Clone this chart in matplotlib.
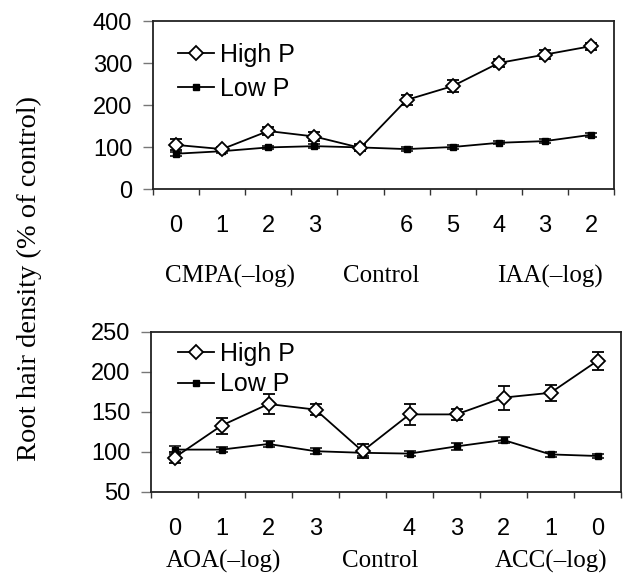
import matplotlib
matplotlib.use("Agg")
import matplotlib.pyplot as plt
from matplotlib.lines import Line2D
import numpy as np

# ---------------- data ----------------
top_labels = ['0', '1', '2', '3', '', '6', '5', '4', '3', '2']
top_high = [105, 95, 138, 125, 98, 212, 245, 300, 320, 340]
top_high_err = [13, 5, 10, 10, 8, 12, 15, 10, 10, 8]
top_low = [84, 90, 99, 102, 99, 95, 100, 110, 114, 129]
top_low_err = [5, 5, 4, 4, 5, 4, 4, 4, 4, 5]
top_groups = ['CMPA(\u2013log)', 'Control', 'IAA(\u2013log)']

bot_labels = ['0', '1', '2', '3', '', '4', '3', '2', '1', '0']
bot_high = [93, 133, 160, 153, 101, 147, 147, 168, 174, 214]
bot_high_err = [7, 10, 12, 7, 9, 13, 7, 15, 10, 11]
bot_low = [103, 103, 110, 101, 99, 98, 107, 115, 97, 95]
bot_low_err = [5, 3, 4, 4, 4, 3, 4, 4, 3, 2]
bot_groups = ['AOA(\u2013log)', 'Control', 'ACC(\u2013log)']

series_names = ['High P', 'Low P']
ylabel = 'Root hair density (% of control)'

W, H = 623, 579
DPI = 100
fig = plt.figure(figsize=(W / DPI, H / DPI), dpi=DPI)
fig.patch.set_facecolor('white')

SANS = ['Liberation Sans', 'DejaVu Sans']
SERIF = ['Liberation Serif', 'DejaVu Serif']


def px_axes(left, right, top, bottom):
    return fig.add_axes([left / W, 1 - bottom / H, (right - left) / W, (bottom - top) / H])


def draw_panel(ax, labels, high, high_err, low, low_err, yticks, ylim,
               leg_anchor, leg_spacing):
    n = len(labels)
    x = np.arange(n) + 0.5
    ax.errorbar(x, high, yerr=high_err, color='black', lw=1.3, marker='D',
                ms=7, mfc='white', mec='black', mew=1.3, capsize=4.5,
                elinewidth=1.1, capthick=1.1, zorder=3)
    ax.errorbar(x, low, yerr=low_err, color='black', lw=1.3, marker='s',
                ms=4.5, mfc='black', mec='black', capsize=4.5,
                elinewidth=1.1, capthick=1.1, zorder=2)
    ax.set_xlim(0, n)
    ax.set_ylim(*ylim)
    ax.set_yticks(yticks)
    ax.set_yticklabels([str(v) for v in yticks], fontfamily=SANS, fontsize=17)
    ax.set_xticks(np.arange(n + 1))
    ax.set_xticklabels([])
    ax.set_xticks(x, minor=True)
    ax.set_xticklabels(labels, minor=True, fontfamily=SANS, fontsize=17)
    ax.tick_params(axis='x', which='major', length=4, width=1.0, color='#333333')
    ax.tick_params(axis='x', which='minor', length=0, pad=19)
    ax.tick_params(axis='y', length=7, width=1.0, color='#777777', pad=8)
    for s in ax.spines.values():
        s.set_linewidth(1.3)
        s.set_color('#222222')
    handles = [
        Line2D([], [], color='black', lw=1.3, marker='D', ms=7, mfc='white',
               mec='black', mew=1.3),
        Line2D([], [], color='black', lw=1.3, marker='s', ms=4.5, mfc='black',
               mec='black'),
    ]
    ax.legend(handles, series_names, loc='upper left',
              bbox_to_anchor=leg_anchor, frameon=False,
              prop={'family': SANS, 'size': 18}, handlelength=1.45,
              handletextpad=0.25, labelspacing=leg_spacing,
              borderpad=0, borderaxespad=0)


ax1 = px_axes(153, 614, 21, 189)
draw_panel(ax1, top_labels, top_high, top_high_err, top_low, top_low_err,
           [0, 100, 200, 300, 400], (0, 400), ((178 - 153) / 461, 1 - (43 - 21) / 168), 0.38)

ax2 = px_axes(151, 621, 332, 492)
draw_panel(ax2, bot_labels, bot_high, bot_high_err, bot_low, bot_low_err,
           [50, 100, 150, 200, 250], (50, 250), ((178 - 151) / 470, 1 - (342 - 332) / 160), 0.25)

# group labels
for name, xc in zip(top_groups, [230, 381, 550]):
    fig.text(xc / W, 1 - 276 / H, name, ha='center', va='center',
             fontfamily=SERIF, fontsize=18)
for name, xc in zip(bot_groups, [223, 380, 551]):
    fig.text(xc / W, 1 - 561 / H, name, ha='center', va='center',
             fontfamily=SERIF, fontsize=18)

fig.text(29 / W, 1 - 278 / H, ylabel, rotation=90, ha='center', va='center',
         fontfamily=SERIF, fontsize=20.5)

fig.savefig('out.png', dpi=DPI, facecolor='white')
